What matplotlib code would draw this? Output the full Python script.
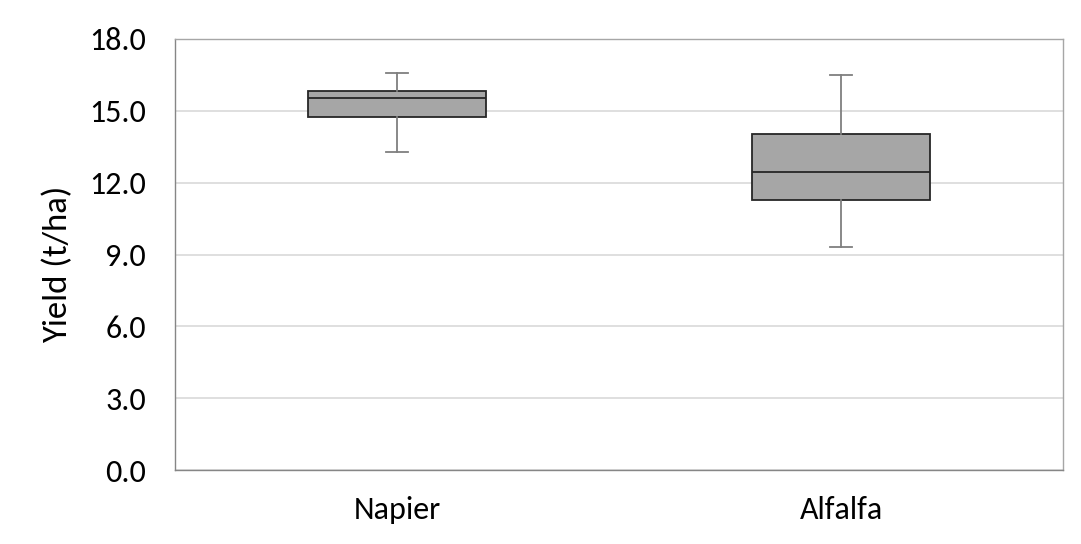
import matplotlib
matplotlib.use("Agg")
import matplotlib.pyplot as plt

categories = ["Napier", "Alfalfa"]
whislo = [13.30, 9.33]
q1 = [14.76, 11.27]
med = [15.55, 12.44]
q3 = [15.83, 14.03]
whishi = [16.57, 16.51]
yticks = [0.0, 3.0, 6.0, 9.0, 12.0, 15.0, 18.0]

plt.rcParams['font.family'] = ['Carlito', 'DejaVu Sans']

fig = plt.figure(figsize=(10.81, 5.44), dpi=100)
ax = fig.add_axes([175/1081, 1 - 470/544, (1063-175)/1081, (470-39)/544])

stats = []
for i, c in enumerate(categories):
    stats.append(dict(label=c, whislo=whislo[i], q1=q1[i], med=med[i], q3=q3[i], whishi=whishi[i], fliers=[]))

ax.bxp(stats, positions=[1, 2], widths=0.4, patch_artist=True, showfliers=False,
       boxprops=dict(facecolor="#A6A6A6", edgecolor="#262626", linewidth=1.3),
       medianprops=dict(color="#262626", linewidth=1.3),
       whiskerprops=dict(color="#7F7F7F", linewidth=1.3),
       capprops=dict(color="#7F7F7F", linewidth=1.3),
       capwidths=0.05, zorder=3)

ax.set_xlim(0.5, 2.5)
ax.set_ylim(0, 18)
ax.set_yticks(yticks)
ax.set_yticklabels([f"{v:.1f}" for v in yticks])
ax.yaxis.grid(True, color="#D9D9D9", linewidth=1.2, zorder=0)
ax.set_axisbelow(True)
ax.tick_params(axis='both', length=0, labelsize=23, colors="#000000")
ax.tick_params(axis='y', pad=21)
ax.tick_params(axis='x', pad=19)
for s in ax.spines.values():
    s.set_color("#A6A6A6")
    s.set_linewidth(1.0)
ax.spines['left'].set_color("#868686")
ax.spines['bottom'].set_color("#868686")
ax.set_ylabel("Yield (t/ha)", fontsize=25)
ax.yaxis.set_label_coords(-(175-73)/888, 1 - (264-39)/431)

fig.savefig("out.png", dpi=100)
